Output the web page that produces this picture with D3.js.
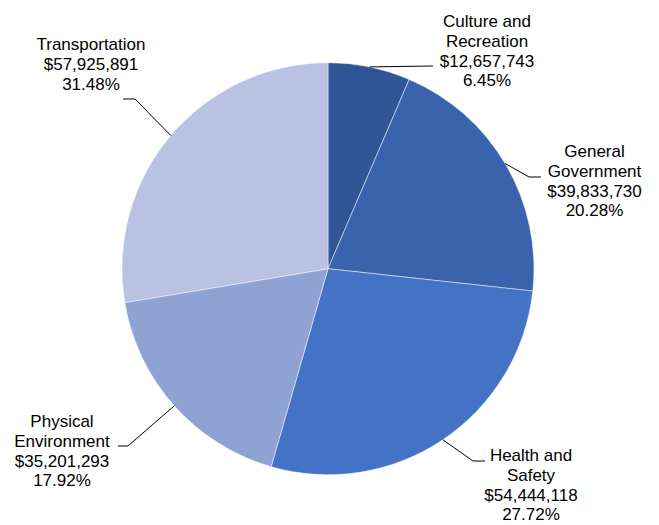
<!DOCTYPE html>
<html>
<head>
<meta charset="utf-8">
<script src="https://cdn.jsdelivr.net/npm/d3@7"></script>
<style>
  html, body { margin: 0; padding: 0; background: #fff; }
  svg { display: block; }
  text { font-family: "Liberation Sans", Arial, sans-serif; font-size: 17px; fill: #000; }
</style>
</head>
<body>
<svg id="chart" width="659" height="525"></svg>
<script>
// ---- data ----
const categories = ["Culture and\nRecreation", "General\nGovernment", "Health and\nSafety", "Physical\nEnvironment", "Transportation"];
const amountLabels = ["$12,657,743", "$39,833,730", "$54,444,118", "$35,201,293", "$57,925,891"];
const percentLabels = ["6.45%", "20.28%", "27.72%", "17.92%", "31.48%"];
// share of the circle each slice occupies as drawn in the picture
const sliceShares = [6.45, 20.28, 27.72, 17.92, 27.63];
const colors = ["#2F5597", "#3A63AE", "#4472C4", "#8FA2D4", "#B9C2E3"];

// ---- layout ----
const W = 659, H = 525;
const cx = 328, cy = 268.7, R = 206;
const lineH = 19.8;
// label anchors: text centre x, first baseline y, leader angle override (deg, null = mid-angle), elbow and end points
const labelLayout = [
  { tx: 487,   ty: 27,  ang: null, elbow: null,        end: [433, 66] },
  { tx: 594.5, ty: 157, ang: 59.3, elbow: [529, 177],  end: [541, 177] },
  { tx: 531,   ty: 461, ang: null, elbow: [473, 461],  end: [485, 461] },
  { tx: 62,    ty: 427, ang: null, elbow: [128, 446],  end: [118, 446] },
  { tx: 91,    ty: 50,  ang: null, elbow: [135, 99],   end: [123, 99] }
];

const svg = d3.select("#chart");
const g = svg.append("g").attr("transform", `translate(${cx},${cy})`);

const pie = d3.pie().sort(null).value(d => d);
const arcs = pie(sliceShares);
const arc = d3.arc().innerRadius(0).outerRadius(R);
const color = d3.scaleOrdinal().domain(d3.range(categories.length)).range(colors);

g.selectAll("path.slice")
  .data(arcs)
  .join("path")
  .attr("class", "slice")
  .attr("d", arc)
  .attr("fill", (d, i) => color(i))
  .attr("stroke", "#ffffff")
  .attr("stroke-opacity", 0.6)
  .attr("stroke-width", 0.8);

// leader lines
const lineGen = d3.line();
arcs.forEach((d, i) => {
  const L = labelLayout[i];
  const a = L.ang !== null ? L.ang * Math.PI / 180 : (d.startAngle + d.endAngle) / 2;
  const start = [cx + R * Math.sin(a), cy - R * Math.cos(a)];
  const pts = [start];
  if (L.elbow) pts.push(L.elbow);
  pts.push(L.end);
  svg.append("path")
    .attr("d", lineGen(pts))
    .attr("fill", "none")
    .attr("stroke", "#000")
    .attr("stroke-width", 1);
});

// labels
categories.forEach((c, i) => {
  const L = labelLayout[i];
  const lines = c.split("\n").concat([amountLabels[i], percentLabels[i]]);
  const t = svg.append("text")
    .attr("text-anchor", "middle")
    .attr("x", L.tx)
    .attr("y", L.ty);
  lines.forEach((s, k) => {
    t.append("tspan")
      .attr("x", L.tx)
      .attr("y", L.ty + k * lineH)
      .text(s);
  });
});
</script>
</body>
</html>
